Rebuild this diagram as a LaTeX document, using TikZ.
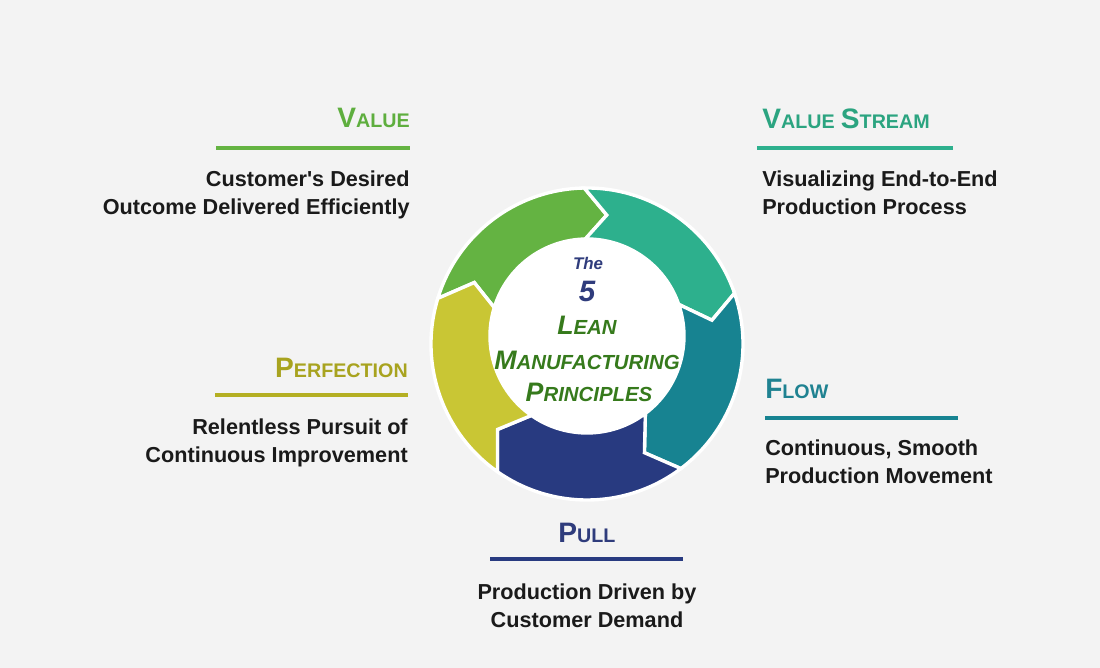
\documentclass[tikz,border=0pt]{standalone}
\usepackage{fontspec}
\setmainfont{Liberation Sans}
\usetikzlibrary{calc}
\definecolor{bg}{HTML}{F3F3F3}
\definecolor{cGreen}{HTML}{64B342}
\definecolor{cTeal}{HTML}{2DB08D}
\definecolor{cFlow}{HTML}{178391}
\definecolor{cNavy}{HTML}{283A80}
\definecolor{cYellow}{HTML}{C9C634}
\definecolor{tGreen}{HTML}{5EAE3E}
\definecolor{tTeal}{HTML}{2BA480}
\definecolor{tFlow}{HTML}{1F8291}
\definecolor{tNavy}{HTML}{2F3C7C}
\definecolor{tYellow}{HTML}{A8A31F}
\definecolor{lYellow}{HTML}{B4AF22}
\definecolor{cDarkGreen}{HTML}{367A1C}
\definecolor{bodytext}{HTML}{1A1A1A}
\newcommand\Ro{156}
\newcommand\Ri{97}
\newcommand\Rm{126.5}
\newcommand\ringseg[3]{%
  \filldraw[fill=#1, draw=white, line width=2.4pt, line join=miter]
    ($(co)+(#2:\Ro)$) arc[start angle=#2, end angle=#3, radius=\Ro]
    -- ($(co)!.5!(ci)+(#3-10:\Rm)$)
    -- ($(ci)+(#3:\Ri)$) arc[start angle=#3, end angle=#2, radius=\Ri]
    -- ($(co)!.5!(ci)+(#2-10:\Rm)$) -- cycle;}
\newcommand\bigsmall[2]{{\fontsize{20}{20}\selectfont #1}{\fontsize{14}{14}\selectfont #2}}
\newcommand\cbigsmall[2]{{\fontsize{19}{19}\selectfont #1}{\fontsize{14.5}{14.5}\selectfont #2}}
\begin{document}
\begin{tikzpicture}[x=0.025cm,y=0.025cm,
  title/.style={inner sep=0pt, font=\bfseries},
  body/.style={inner sep=0pt, font=\bfseries\fontsize{15.4}{18}\selectfont, text=bodytext},
  rule/.style={line width=2.8pt},
  ctext/.style={inner sep=0pt, font=\bfseries\itshape}]
\fill[bg] (0,0) rectangle (1100,668);
\useasboundingbox (0,0) rectangle (1100,668);
\coordinate (co) at (587,324);
\coordinate (ci) at (587,332);
\fill[white] (ci) circle[radius=\Ri];
% ring
\ringseg{cGreen}{163}{91}
\ringseg{cTeal}{91}{19}
\ringseg{cFlow}{19}{-53}
\ringseg{cNavy}{-53}{-125}
\ringseg{cYellow}{-125}{-197}
% centre text
\node[ctext, anchor=base, text=tNavy, font=\bfseries\itshape\fontsize{12}{12}\selectfont] (cThe) at (588,398) {The};
\node[ctext, anchor=base, text=tNavy, font=\bfseries\itshape\fontsize{21}{21}\selectfont] (cFive) at (587,366) {5};
\node[ctext, anchor=base, text=cDarkGreen] (cLean) at (587,333) {\cbigsmall{L}{EAN}};
\node[ctext, anchor=base, text=cDarkGreen] (cManu) at (587,298) {\cbigsmall{M}{ANUFACTURING}};
\node[ctext, anchor=base, text=cDarkGreen] (cPrin) at (589,266) {\cbigsmall{P}{RINCIPLES}};
% Value
\node[title, anchor=base east, text=tGreen] (tValue) at (410,540) {\bigsmall{V}{ALUE}};
\coordinate (lValueA) at (216,520);
\coordinate (lValueB) at (410,520);
\draw[rule, cGreen] (lValueA) -- (lValueB);
\node[body, anchor=base east] (bValue1) at (410,481) {Customer\textquotesingle s Desired};
\node[body, anchor=base east] (bValue2) at (410,453) {Outcome Delivered Efficiently};
% Value Stream
\node[title, anchor=base west, text=tTeal] (tStream) at (762,539) {\bigsmall{V}{ALUE}\hspace{4.5pt}\bigsmall{S}{TREAM}};
\coordinate (lStreamA) at (757,520);
\coordinate (lStreamB) at (953,520);
\draw[rule, cTeal] (lStreamA) -- (lStreamB);
\node[body, anchor=base west] (bStream1) at (762,481) {Visualizing End-to-End};
\node[body, anchor=base west] (bStream2) at (762,453) {Production Process};
% Perfection
\node[title, anchor=base east, text=tYellow] (tPerf) at (408,290) {\bigsmall{P}{ERFECTION}};
\coordinate (lPerfA) at (215,273);
\coordinate (lPerfB) at (408,273);
\draw[rule, lYellow] (lPerfA) -- (lPerfB);
\node[body, anchor=base east] (bPerf1) at (408,233) {Relentless Pursuit of};
\node[body, anchor=base east] (bPerf2) at (408,205) {Continuous Improvement};
% Flow
\node[title, anchor=base west, text=tFlow] (tFlowN) at (765,269) {\bigsmall{F}{LOW}};
\coordinate (lFlowA) at (765,250);
\coordinate (lFlowB) at (958,250);
\draw[rule, cFlow] (lFlowA) -- (lFlowB);
\node[body, anchor=base west] (bFlow1) at (765,212) {Continuous, Smooth};
\node[body, anchor=base west] (bFlow2) at (765,184) {Production Movement};
% Pull
\node[title, anchor=base, text=tNavy] (tPull) at (587,125) {\bigsmall{P}{ULL}};
\coordinate (lPullA) at (490,109);
\coordinate (lPullB) at (683,109);
\draw[rule, cNavy] (lPullA) -- (lPullB);
\node[body, anchor=base] (bPull1) at (587,68) {Production Driven by};
\node[body, anchor=base] (bPull2) at (587,40) {Customer Demand};
\end{tikzpicture}
\end{document}
